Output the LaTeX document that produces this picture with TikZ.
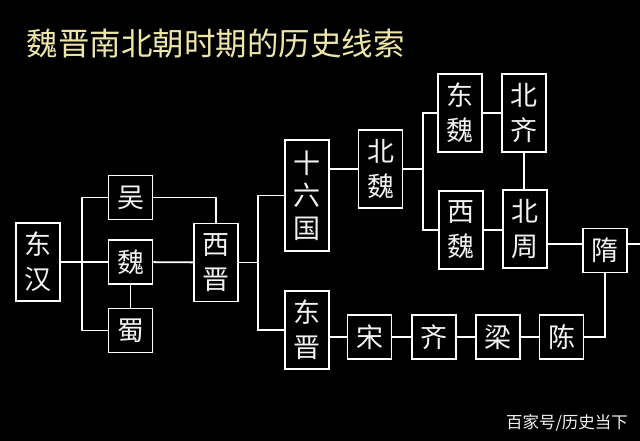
\documentclass[tikz,border=0pt]{standalone}
\usepackage{fontspec}
\newfontfamily\cjk{Noto Sans CJK SC}
\definecolor{titleyellow}{HTML}{EEE6A8}
\definecolor{boxtext}{HTML}{F2F2F2}
\begin{document}
\begin{tikzpicture}[x=1pt,y=-1pt,
  era/.style={draw=white, line width=1.8pt, fill=black, text=boxtext,
    minimum width=44pt, inner sep=0pt, align=center,
    font=\cjk\fontsize{27}{35}\selectfont},
  one/.style={era, minimum height=44pt},
  two/.style={era, minimum height=78pt},
  three/.style={era, minimum height=111pt, font=\cjk\fontsize{27}{32.5}\selectfont},
  link/.style={draw=white, line width=1.8pt}]
\fill[black] (0,0) rectangle (640,441);
\useasboundingbox (0,0) rectangle (640,441);

\node[font=\cjk\fontsize{31.5}{31.5}\selectfont, text=titleyellow, inner sep=0pt] (title) at (216,44) {魏晋南北朝时期的历史线索};

\node[two]   (donghan)  at (38,262)   {东\\汉};
\node[one]   (wu)       at (130.5,197.5) {吴};
\node[one]   (wei)      at (130.5,262) {魏};
\node[one]   (shu)      at (130.5,330.5) {蜀};
\node[two]   (xijin)    at (216,262.5) {西\\晋};
\node[three] (shiliu)   at (307,195.5) {十\\六\\国};
\node[two]   (dongjin)  at (307,330)  {东\\晋};
\node[two]   (beiwei)   at (380.5,169) {北\\魏};
\node[two]   (dongwei)  at (460,113)  {东\\魏};
\node[two]   (beiqi)    at (524,113)  {北\\齐};
\node[two]   (xiwei)    at (461,230)  {西\\魏};
\node[two]   (beizhou)  at (525,229)  {北\\周};
\node[one]   (sui)      at (605,250.5) {隋};
\node[one]   (song)     at (369.5,337) {宋};
\node[one]   (qi)       at (434,337)  {齐};
\node[one]   (liang)    at (498,337)  {梁};
\node[one]   (chen)     at (561.5,337) {陈};

\node[font=\cjk\fontsize{16.5}{16.5}\selectfont, text=boxtext, inner sep=0pt] (mark) at (567,423) {百家号/历史当下};

\coordinate (busL) at (82,262);
\coordinate (busR) at (258,262.5);
\coordinate (busM) at (423,169);
\coordinate (suiL) at (583,244);
\coordinate (rightend) at (641,244);

\draw[link] (wu.west) -| (busL) |- (shu.west);
\draw[link] (donghan) -- (wei);
\draw[link] (wei) -- (xijin);
\draw[link] (wei) -- (shu);
\draw[link] (wu.east) -| (xijin.north);
\draw[link] (xijin) -- (busR);
\draw[link] (shiliu.west) -| (busR) |- (dongjin.west);
\draw[link] (beiwei.west) -- (beiwei.west -| shiliu.east);
\draw[link] (beiwei) -- (busM);
\draw[link] (dongwei.west) -| (busM) |- (xiwei.west);
\draw[link] (dongwei) -- (beiqi);
\draw[link] (beiqi) -- (beiqi |- beizhou.north);
\draw[link] (xiwei.east) -- (xiwei.east -| beizhou.west);
\draw[link] (beizhou.east |- suiL) -- (suiL);
\draw[link] (sui.east |- suiL) -- (rightend);
\draw[link] (song.west) -- (song.west -| dongjin.east);
\draw[link] (song) -- (qi);
\draw[link] (qi) -- (liang);
\draw[link] (liang) -- (chen);
\draw[link] (chen.east) -| (sui.south);
\end{tikzpicture}
\end{document}
